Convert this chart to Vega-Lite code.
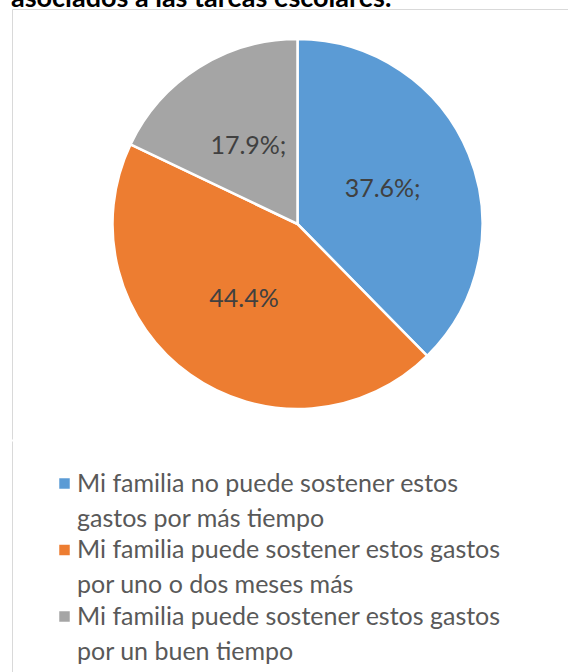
{
  "$schema": "https://vega.github.io/schema/vega-lite/v6.json",
  "padding": {"left": 11, "top": -16, "right": 0, "bottom": 0},
  "background": "white",
  "title": {"text": "asociados a las tareas escolares.", "anchor": "start", "font": "Lato", "fontSize": 27, "fontWeight": "bold", "color": "#000000", "offset": -4},
  "data": {"values": [
    {"categoria": "Mi familia no puede sostener estos gastos por más tiempo", "porcentaje": 37.6, "etiqueta": "37.6%;", "orden": 1},
    {"categoria": "Mi familia puede sostener estos gastos por uno o dos meses más", "porcentaje": 44.4, "etiqueta": "44.4%", "orden": 2},
    {"categoria": "Mi familia puede sostener estos gastos por un buen tiempo", "porcentaje": 17.9, "etiqueta": "17.9%;", "orden": 3}
  ]},
  "spacing": 0,
  "vconcat": [
    {
      "width": 571,
      "height": 430,
      "view": {"stroke": "#d9d9d9", "strokeWidth": 1, "strokeDash": [571, 1001, 430, 0]},
      "layer": [
        {
          "mark": {"type": "arc", "outerRadius": 185, "stroke": "white", "strokeWidth": 2.5},
          "encoding": {
            "theta": {"field": "porcentaje", "type": "quantitative", "stack": true},
            "order": {"field": "orden", "type": "quantitative"},
            "color": {
              "field": "categoria", "type": "nominal",
              "scale": {"domain": ["Mi familia no puede sostener estos gastos por más tiempo", "Mi familia puede sostener estos gastos por uno o dos meses más", "Mi familia puede sostener estos gastos por un buen tiempo"], "range": ["#5B9BD5", "#ED7D31", "#A5A5A5"]},
              "legend": {
                "orient": "none", "legendX": 40, "legendY": 462,
                "title": null, "padding": 0,
                "symbolType": "square", "symbolSize": 110, "symbolStrokeWidth": 0,
                "labelFont": "Lato", "labelFontSize": 25, "labelColor": "#595959",
                "labelOffset": 0, "labelLimit": 600, "rowPadding": 5.5,
                "labelExpr": "datum.label == 'Mi familia no puede sostener estos gastos por más tiempo' ? ['Mi familia no puede sostener estos', 'gastos por más tiempo'] : datum.label == 'Mi familia puede sostener estos gastos por uno o dos meses más' ? ['Mi familia puede sostener estos gastos', 'por uno o dos meses más'] : ['Mi familia puede sostener estos gastos', 'por un buen tiempo']"
              }
            }
          }
        },
        {
          "mark": {"type": "text", "radius": 92, "font": "Lato", "fontSize": 25, "color": "#404040"},
          "encoding": {
            "theta": {"field": "porcentaje", "type": "quantitative", "stack": true},
            "order": {"field": "orden", "type": "quantitative"},
            "text": {"field": "etiqueta", "type": "nominal"}
          }
        }
      ]
    },
    {
      "width": 571,
      "height": 232,
      "view": {"stroke": "#d9d9d9", "strokeWidth": 1, "strokeDash": [0, 1374, 232, 0]},
      "mark": {"type": "rule", "opacity": 0},
      "encoding": {}
    }
  ],
  "config": {
    "style": {"guide-label": {"lineHeight": 35}}
  }
}
